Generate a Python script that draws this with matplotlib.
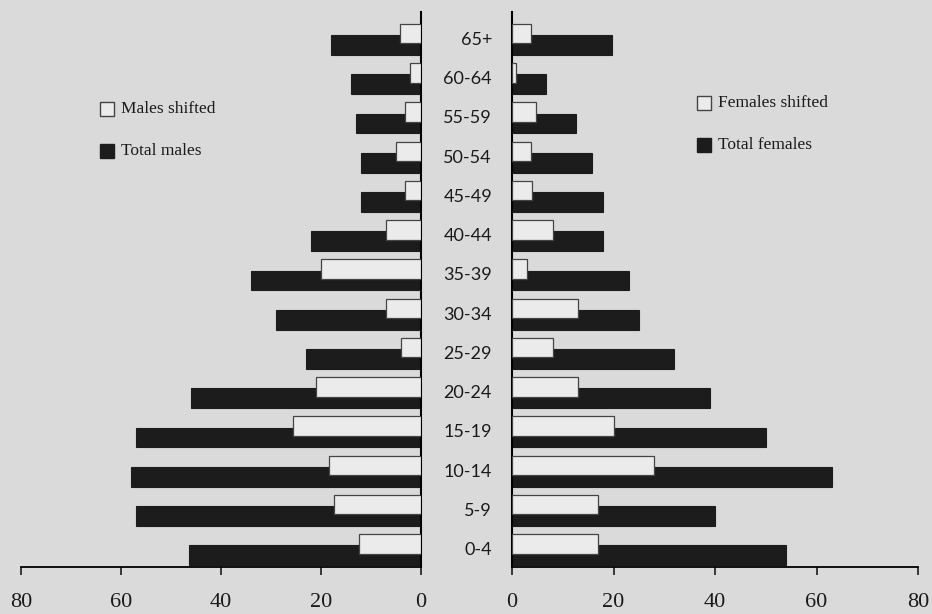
import numpy as np
import matplotlib
matplotlib.use('Agg')
import matplotlib.pyplot as plt
from matplotlib.patches import Rectangle

# Grupos de edad (de abajo hacia arriba)
age_groups = ['0-4', '5-9', '10-14', '15-19', '20-24', '25-29', '30-34',
              '35-39', '40-44', '45-49', '50-54', '55-59', '60-64', '65+']

total_males = [46.5, 57, 58, 57, 46, 23, 29, 34, 22, 12, 12, 13, 14, 18]
males_shifted = [12.5, 17.5, 18.5, 25.7, 21, 4, 7, 20, 7, 3.2, 5, 3.2, 2.2, 4.2]

total_females = [54, 40, 63, 50, 39, 32, 25, 23, 18, 18, 15.8, 12.7, 6.7, 19.7]
females_shifted = [17, 17, 28, 20, 13, 8, 13, 3, 8, 4, 3.8, 4.7, 0.7, 3.7]

ticks = [0, 20, 40, 60, 80]

bg = '#dadada'
dark = '#1c1c1c'
light = '#ebebeb'
edge = '#444444'
serif = 'Liberation Serif'

W, H = 932, 614
fig = plt.figure(figsize=(W / 100, H / 100), dpi=100, facecolor=bg)
ax_m = fig.add_axes([21 / W, 47 / H, 400 / W, 555 / H])
ax_f = fig.add_axes([512 / W, 47 / H, 406 / W, 555 / H])

y = np.arange(len(age_groups))
h = 0.5

for ax, total, shifted in [(ax_m, total_males, males_shifted),
                           (ax_f, total_females, females_shifted)]:
    ax.set_facecolor(bg)
    ax.barh(y - 0.13, total, height=h, color=dark, edgecolor=dark, linewidth=0.8, zorder=2)
    ax.barh(y + 0.16, shifted, height=h, color=light, edgecolor=edge, linewidth=0.9, zorder=3)
    ax.set_ylim(-0.43, 13.71)
    ax.set_yticks([])
    ax.set_xticks(ticks)
    ax.tick_params(axis='x', direction='out', length=6, width=1.2, pad=13,
                   labelsize=16, colors='#1a1a1a')
    for lab in ax.get_xticklabels():
        lab.set_fontfamily(serif)
    ax.spines['top'].set_visible(False)
    ax.spines['bottom'].set_linewidth(1.3)

ax_m.set_xlim(80, 0)
ax_m.spines['left'].set_visible(False)
ax_m.spines['right'].set_linewidth(1.5)

ax_f.set_xlim(0, 80)
ax_f.spines['right'].set_visible(False)
ax_f.spines['left'].set_linewidth(1.5)

# etiquetas de edad en el centro
for i, g in enumerate(age_groups):
    fig.text(492 / W, ax_m.transData.transform((0, i))[1] / fig.bbox.height,
             g, ha='right', va='center', fontsize=13, family='Lato', color='#1a1a1a')

# leyendas dibujadas a mano (posiciones en pixeles de la figura)
def legend_item(x, yc, label, face, ec):
    s = 14
    fig.patches.append(Rectangle((x / W, 1 - (yc + s / 2) / H), s / W, s / H,
                                 transform=fig.transFigure, facecolor=face,
                                 edgecolor=ec, linewidth=1.0))
    fig.text((x + 21) / W, 1 - yc / H, label, ha='left', va='center',
             family=serif, fontsize=12.5, color='#1a1a1a')

legend_item(100, 109, 'Males shifted', light, edge)
legend_item(100, 151, 'Total males', dark, dark)
legend_item(697, 103, 'Females shifted', light, edge)
legend_item(697, 145, 'Total females', dark, dark)

fig.savefig('out.png', dpi=100, facecolor=bg)
